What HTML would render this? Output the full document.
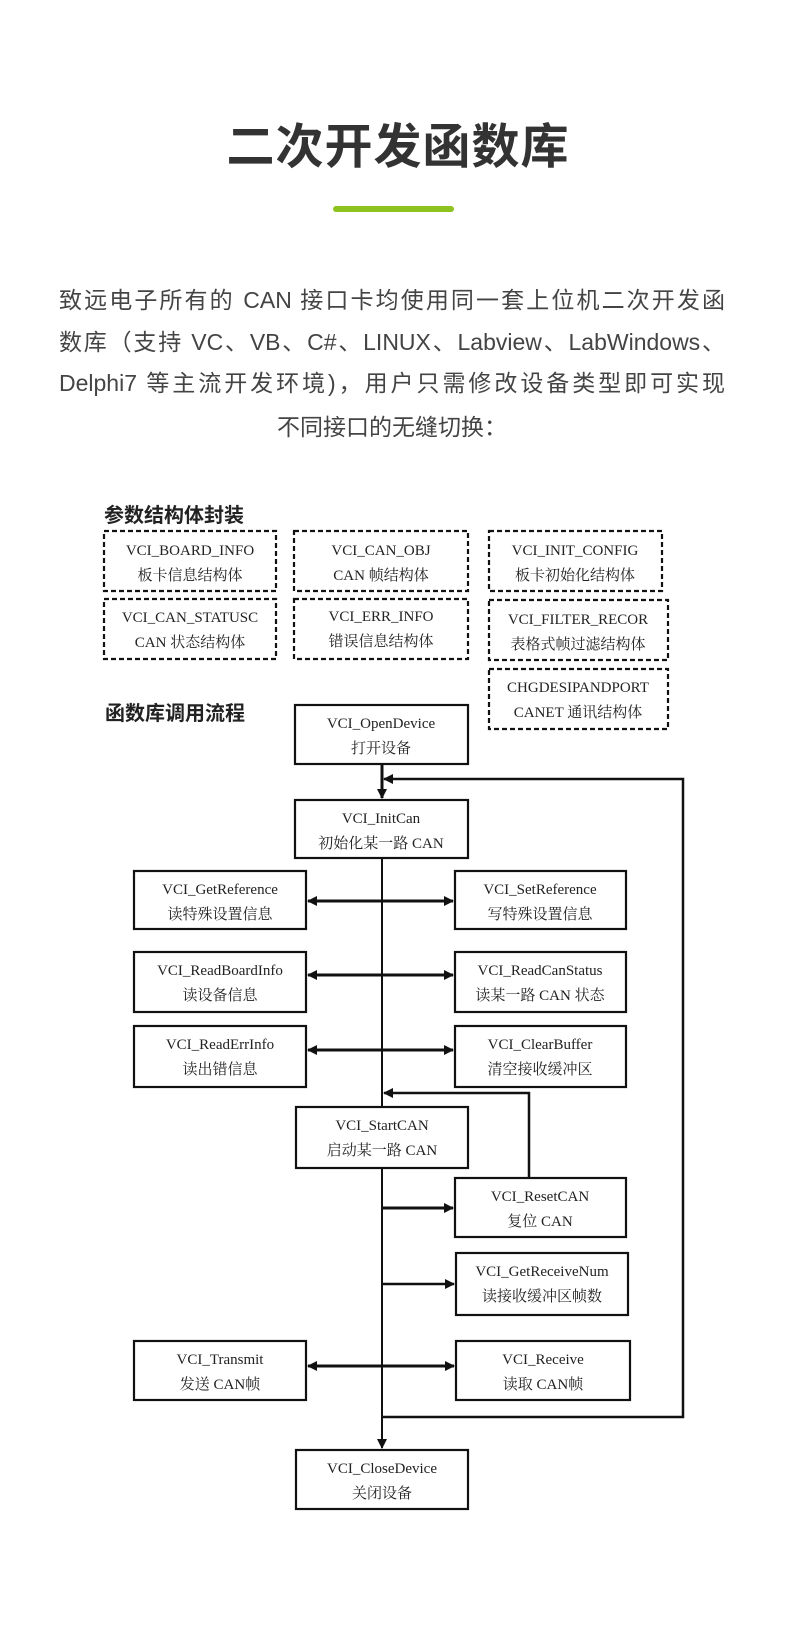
<!DOCTYPE html>
<html><head><meta charset="utf-8"><style>
html,body{margin:0;padding:0;background:#fff;}
body{width:790px;height:1633px;position:relative;overflow:hidden;font-family:"Liberation Sans","Noto Sans CJK SC",sans-serif;}
.title{position:absolute;left:0;width:796px;top:118px;text-align:center;font-size:48px;font-weight:bold;color:#333;letter-spacing:1px;line-height:60px;}
.bar{position:absolute;left:333px;top:206px;width:121px;height:6px;border-radius:3px;background:#8dc21f;}
.p{position:absolute;left:59px;width:666px;font-size:23px;color:#444;line-height:30px;white-space:nowrap;}
.j{text-align:justify;text-align-last:justify;}
.c{text-align:center;}
</style></head><body>
<div class="title">二次开发函数库</div>
<div class="bar"></div>
<div class="p j" style="top:285px">致远电子所有的 CAN 接口卡均使用同一套上位机二次开发函</div>
<div class="p j" style="top:327px">数库（支持 VC、VB、C#、LINUX、Labview、LabWindows、</div>
<div class="p j" style="top:368px">Delphi7 等主流开发环境)，用户只需修改设备类型即可实现</div>
<div class="p c" style="top:412px">不同接口的无缝切换：</div>

<svg width="790" height="1633" style="position:absolute;left:0;top:0" xmlns="http://www.w3.org/2000/svg">
<defs>
<marker id="a" markerWidth="10" markerHeight="10" refX="9" refY="5" orient="auto" markerUnits="userSpaceOnUse"><path d="M0,0 L10,5 L0,10 z" fill="#111"/></marker>
<marker id="b" markerWidth="10" markerHeight="10" refX="1" refY="5" orient="auto" markerUnits="userSpaceOnUse"><path d="M10,0 L0,5 L10,10 z" fill="#111"/></marker>
</defs>
<g font-family="Liberation Sans,Noto Sans CJK SC,sans-serif" font-size="20" font-weight="bold" fill="#222">
<text x="104" y="522">参数结构体封装</text>
<text x="105" y="720">函数库调用流程</text>
</g>
<g fill="none" stroke="#111" stroke-width="2.2" stroke-dasharray="5,3">
<rect x="104" y="531" width="172" height="60"/>
<rect x="294" y="531" width="174" height="60"/>
<rect x="489" y="531" width="173" height="60"/>
<rect x="104" y="599" width="172" height="60"/>
<rect x="294" y="599" width="174" height="60"/>
<rect x="489" y="600" width="179" height="60"/>
<rect x="489" y="669" width="179" height="60"/>
</g>
<g fill="none" stroke="#111" stroke-width="2.2">
<rect x="295" y="705" width="173" height="59"/>
<rect x="295" y="800" width="173" height="58"/>
<rect x="134" y="871" width="172" height="58"/>
<rect x="455" y="871" width="171" height="58"/>
<rect x="134" y="952" width="172" height="60"/>
<rect x="455" y="952" width="171" height="60"/>
<rect x="134" y="1026" width="172" height="61"/>
<rect x="455" y="1026" width="171" height="61"/>
<rect x="296" y="1107" width="172" height="61"/>
<rect x="455" y="1178" width="171" height="59"/>
<rect x="456" y="1253" width="172" height="62"/>
<rect x="134" y="1341" width="172" height="59"/>
<rect x="456" y="1341" width="174" height="59"/>
<rect x="296" y="1450" width="172" height="59"/>
</g>
<g stroke="#111" fill="none">
<line x1="382" y1="764" x2="382" y2="798" stroke-width="3" marker-end="url(#a)"/>
<polyline points="382,1417 683,1417 683,779 384,779" stroke-width="2.5" marker-end="url(#a)"/>
<line x1="382" y1="858" x2="382" y2="1107" stroke-width="2"/>
<line x1="382" y1="1168" x2="382" y2="1448" stroke-width="2" marker-end="url(#a)"/>
<line x1="308" y1="901" x2="453" y2="901" stroke-width="3" marker-start="url(#b)" marker-end="url(#a)"/>
<line x1="308" y1="975" x2="453" y2="975" stroke-width="3" marker-start="url(#b)" marker-end="url(#a)"/>
<line x1="308" y1="1050" x2="453" y2="1050" stroke-width="3" marker-start="url(#b)" marker-end="url(#a)"/>
<line x1="308" y1="1366" x2="454" y2="1366" stroke-width="3" marker-start="url(#b)" marker-end="url(#a)"/>
<polyline points="529,1178 529,1093 384,1093" stroke-width="2.5" marker-end="url(#a)"/>
<line x1="382" y1="1208" x2="453" y2="1208" stroke-width="3" marker-end="url(#a)"/>
<line x1="382" y1="1284" x2="454" y2="1284" stroke-width="2.5" marker-end="url(#a)"/>
</g>
<g font-family="Liberation Serif,Noto Serif CJK SC,serif" font-size="15" fill="#222" text-anchor="middle">
<text x="190" y="555">VCI_BOARD_INFO</text><text x="190" y="580">板卡信息结构体</text>
<text x="381" y="555">VCI_CAN_OBJ</text><text x="381" y="580">CAN 帧结构体</text>
<text x="575" y="555">VCI_INIT_CONFIG</text><text x="575" y="580">板卡初始化结构体</text>
<text x="190" y="622">VCI_CAN_STATUSC</text><text x="190" y="647">CAN 状态结构体</text>
<text x="381" y="621">VCI_ERR_INFO</text><text x="381" y="646">错误信息结构体</text>
<text x="578" y="624">VCI_FILTER_RECOR</text><text x="578" y="649">表格式帧过滤结构体</text>
<text x="578" y="692">CHGDESIPANDPORT</text><text x="578" y="717">CANET 通讯结构体</text>
<text x="381" y="728">VCI_OpenDevice</text><text x="381" y="753">打开设备</text>
<text x="381" y="823">VCI_InitCan</text><text x="381" y="848">初始化某一路 CAN</text>
<text x="220" y="894">VCI_GetReference</text><text x="220" y="919">读特殊设置信息</text>
<text x="540" y="894">VCI_SetReference</text><text x="540" y="919">写特殊设置信息</text>
<text x="220" y="975">VCI_ReadBoardInfo</text><text x="220" y="1000">读设备信息</text>
<text x="540" y="975">VCI_ReadCanStatus</text><text x="540" y="1000">读某一路 CAN 状态</text>
<text x="220" y="1049">VCI_ReadErrInfo</text><text x="220" y="1074">读出错信息</text>
<text x="540" y="1049">VCI_ClearBuffer</text><text x="540" y="1074">清空接收缓冲区</text>
<text x="382" y="1130">VCI_StartCAN</text><text x="382" y="1155">启动某一路 CAN</text>
<text x="540" y="1201">VCI_ResetCAN</text><text x="540" y="1226">复位 CAN</text>
<text x="542" y="1276">VCI_GetReceiveNum</text><text x="542" y="1301">读接收缓冲区帧数</text>
<text x="220" y="1364">VCI_Transmit</text><text x="220" y="1389">发送 CAN帧</text>
<text x="543" y="1364">VCI_Receive</text><text x="543" y="1389">读取 CAN帧</text>
<text x="382" y="1473">VCI_CloseDevice</text><text x="382" y="1498">关闭设备</text>
</g>
</svg>
</body></html>
